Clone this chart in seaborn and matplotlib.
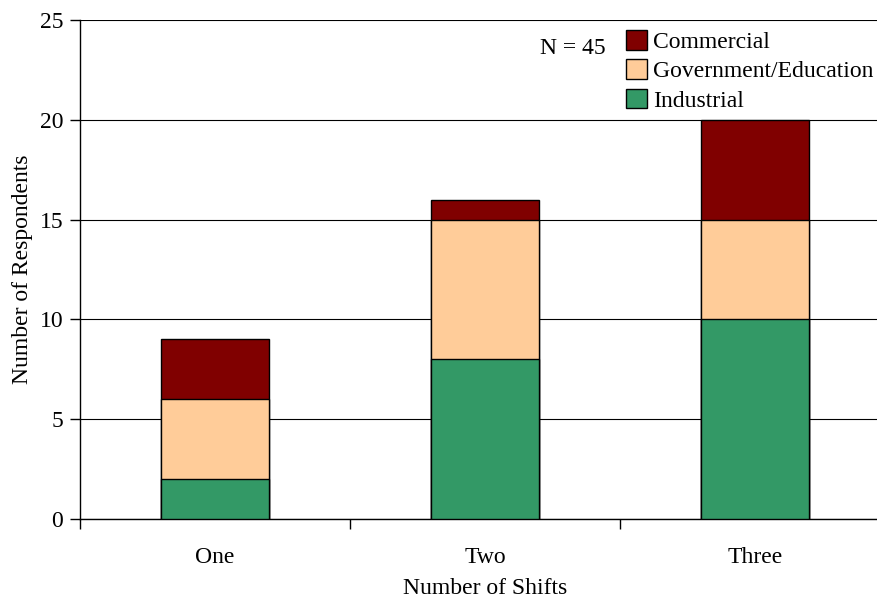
import numpy as np
import pandas as pd
import seaborn as sns
import matplotlib.pyplot as plt
from matplotlib.patches import Patch

shifts = ["One", "Two", "Three"]
industrial = [2, 8, 10]
government = [4, 7, 5]
commercial = [3, 1, 5]

COLORS = {"Commercial": "#800000",
          "Government/Education": "#FFCC99",
          "Industrial": "#339966"}

sns.set_style("white")
plt.rcParams['font.family'] = ['Liberation Serif', 'DejaVu Serif']
plt.rcParams['text.color'] = 'black'
plt.rcParams['axes.labelcolor'] = 'black'
plt.rcParams['xtick.color'] = 'black'
plt.rcParams['ytick.color'] = 'black'

FS = 17

fig = plt.figure(figsize=(8.77, 5.98), dpi=100)
ax = fig.add_axes([80/877, 1-519/598, 810/877, 499/598])

df = pd.DataFrame({"shift": shifts,
                   "Industrial": industrial,
                   "Government/Education": government,
                   "Commercial": commercial})
df["gov_top"] = df["Industrial"] + df["Government/Education"]
df["com_top"] = df["gov_top"] + df["Commercial"]

# tallest first so the lower segments sit on top
sns.barplot(data=df, x="shift", y="com_top", color=COLORS["Commercial"],
            width=0.4, edgecolor="black", linewidth=1, ax=ax, saturation=1, zorder=3)
sns.barplot(data=df, x="shift", y="gov_top", color=COLORS["Government/Education"],
            width=0.4, edgecolor="black", linewidth=1, ax=ax, saturation=1, zorder=3)
sns.barplot(data=df, x="shift", y="Industrial", color=COLORS["Industrial"],
            width=0.4, edgecolor="black", linewidth=1, ax=ax, saturation=1, zorder=3)

ax.set_xlim(-0.5, 2.5)
ax.set_ylim(0, 25)
ax.set_yticks(range(0, 26, 5))
ax.yaxis.grid(True, color="black", linewidth=0.8, zorder=0)
ax.set_axisbelow(True)

ax.set_xticks([-0.5, 0.5, 1.5, 2.5])
ax.set_xticklabels([])
ax.set_xticks([0, 1, 2], minor=True)
ax.set_xticklabels(shifts, minor=True)
ax.tick_params(axis="x", which="major", direction="out", length=7, width=1)
ax.tick_params(axis="x", which="minor", length=0, pad=20, labelsize=FS)
ax.tick_params(axis="y", direction="out", length=7, width=1, labelsize=FS, pad=5)
ax.xaxis.set_ticks_position("bottom")
ax.yaxis.set_ticks_position("left")

for side in ["top", "right"]:
    ax.spines[side].set_visible(False)
for side in ["left", "bottom"]:
    ax.spines[side].set_color("black")
    ax.spines[side].set_linewidth(1)

ax.set_xlabel("Number of Shifts", fontsize=FS, labelpad=7)
ax.set_ylabel("Number of Respondents", fontsize=FS, labelpad=5)

fig.text(540/877, 1-49/598, "N = 45", fontsize=FS, va="center", ha="left")

handles = [Patch(facecolor=COLORS[k], edgecolor="black", linewidth=1, label=k)
           for k in ["Commercial", "Government/Education", "Industrial"]]
ax.legend(handles=handles, loc="upper left", bbox_to_anchor=(626/877, 1-30/598),
          bbox_transform=fig.transFigure, frameon=False, fontsize=FS,
          handlelength=0.9, handleheight=0.9, handletextpad=0.25,
          labelspacing=0.27, borderpad=0, borderaxespad=0)

fig.savefig("out.png", dpi=100)
